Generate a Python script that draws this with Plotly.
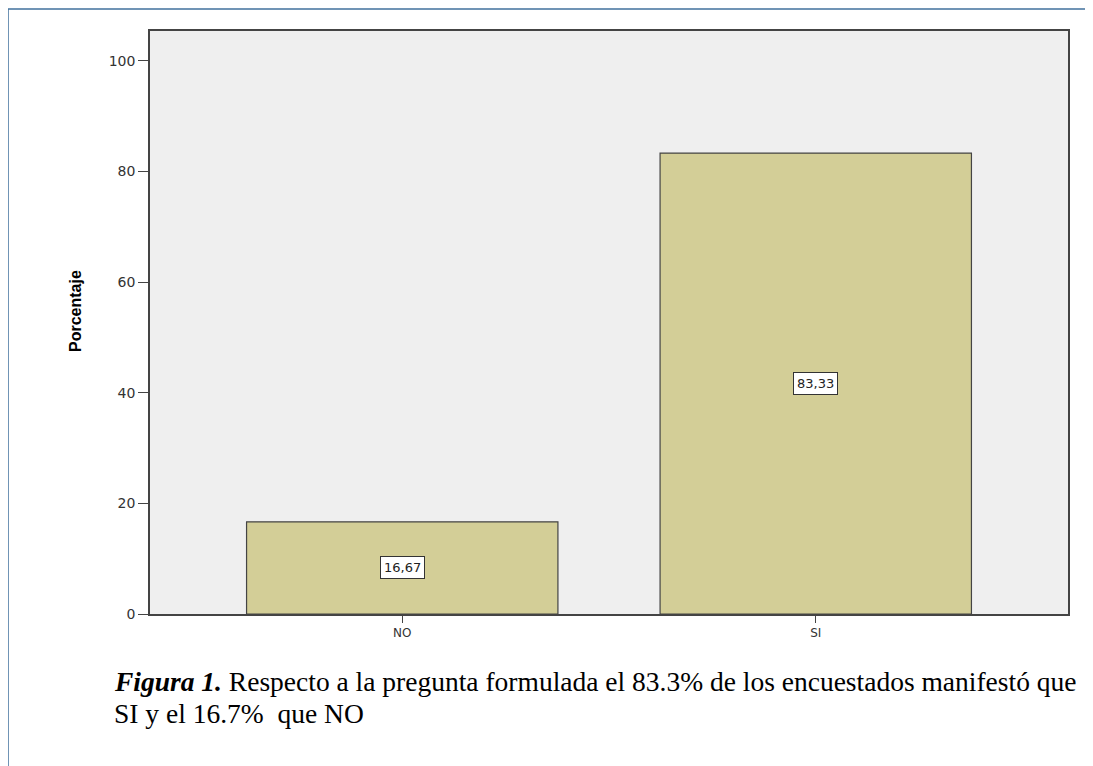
import plotly.graph_objects as go

# respuestas y porcentajes
categorias = ["NO", "SI"]
porcentajes = [16.67, 83.33]
etiquetas = ["16,67", "83,33"]
ticks_y = [0, 20, 40, 60, 80, 100]

color_barra = "#D3CE97"
borde = "#444444"

fig = go.Figure()
fig.add_trace(go.Bar(
    x=categorias, y=porcentajes, width=0.753,
    marker=dict(color=color_barra, line=dict(color=borde, width=1.2)),
    hoverinfo="skip"))

# etiquetas en el centro de cada barra
for c, v, t in zip(categorias, porcentajes, etiquetas):
    fig.add_annotation(x=c, y=v / 2, text=t, showarrow=False,
                       font=dict(family="DejaVu Sans", size=13, color="#222"),
                       bgcolor="white", bordercolor="#333", borderwidth=1, borderpad=3)

# titulo del eje y
fig.add_annotation(xref="paper", yref="paper", x=(75 - 150) / 918, y=(614 - 311) / 583,
                   xanchor="center", yanchor="middle",
                   text="<b>Porcentaje</b>", textangle=-90, showarrow=False,
                   font=dict(family="Arial", size=16, color="black"))

# pie de figura (dos lineas)
x_pie = (112 - 150) / 918
fig.add_annotation(xref="paper", yref="paper", x=x_pie, y=(614 - 681) / 583,
                   xanchor="left", yanchor="middle", showarrow=False,
                   text="<b><i>Figura 1.</i></b> Respecto a la pregunta formulada el 83.3% de los encuestados manifestó que",
                   font=dict(family="Liberation Serif", size=27.5, color="black"))
fig.add_annotation(xref="paper", yref="paper", x=x_pie, y=(614 - 713) / 583,
                   xanchor="left", yanchor="middle", showarrow=False,
                   text="SI y el 16.7%&nbsp;&nbsp;que NO",
                   font=dict(family="Liberation Serif", size=27.5, color="black"))

# marco azul exterior
x_marco = (8 - 150) / 918
y_marco = (614 - 9) / 583
fig.add_shape(type="line", xref="paper", yref="paper",
              x0=x_marco, x1=x_marco, y0=-0.3, y1=y_marco,
              line=dict(color="#41719C", width=1.5))
fig.add_shape(type="line", xref="paper", yref="paper",
              x0=x_marco, x1=1.05, y0=y_marco, y1=y_marco,
              line=dict(color="#41719C", width=1.5))

fig.update_layout(
    width=1085, height=758,
    margin=dict(l=142, r=25, t=23, b=152),
    paper_bgcolor="white", plot_bgcolor="#EFEFEF",
    showlegend=False,
    xaxis=dict(range=[-0.61, 1.61], showgrid=False, ticks="outside", ticklen=7,
               tickcolor=borde, showline=True, linecolor=borde, linewidth=1.5, mirror=True,
               tickfont=dict(family="DejaVu Sans", size=12, color="#333")),
    yaxis=dict(range=[0, 105.4], tickvals=ticks_y, showgrid=False, zeroline=False,
               ticks="outside", ticklen=10, tickcolor=borde, showline=True,
               linecolor=borde, linewidth=1.5, mirror=True,
               tickfont=dict(family="DejaVu Sans", size=14, color="#333")),
)

fig.write_html("out.html")
